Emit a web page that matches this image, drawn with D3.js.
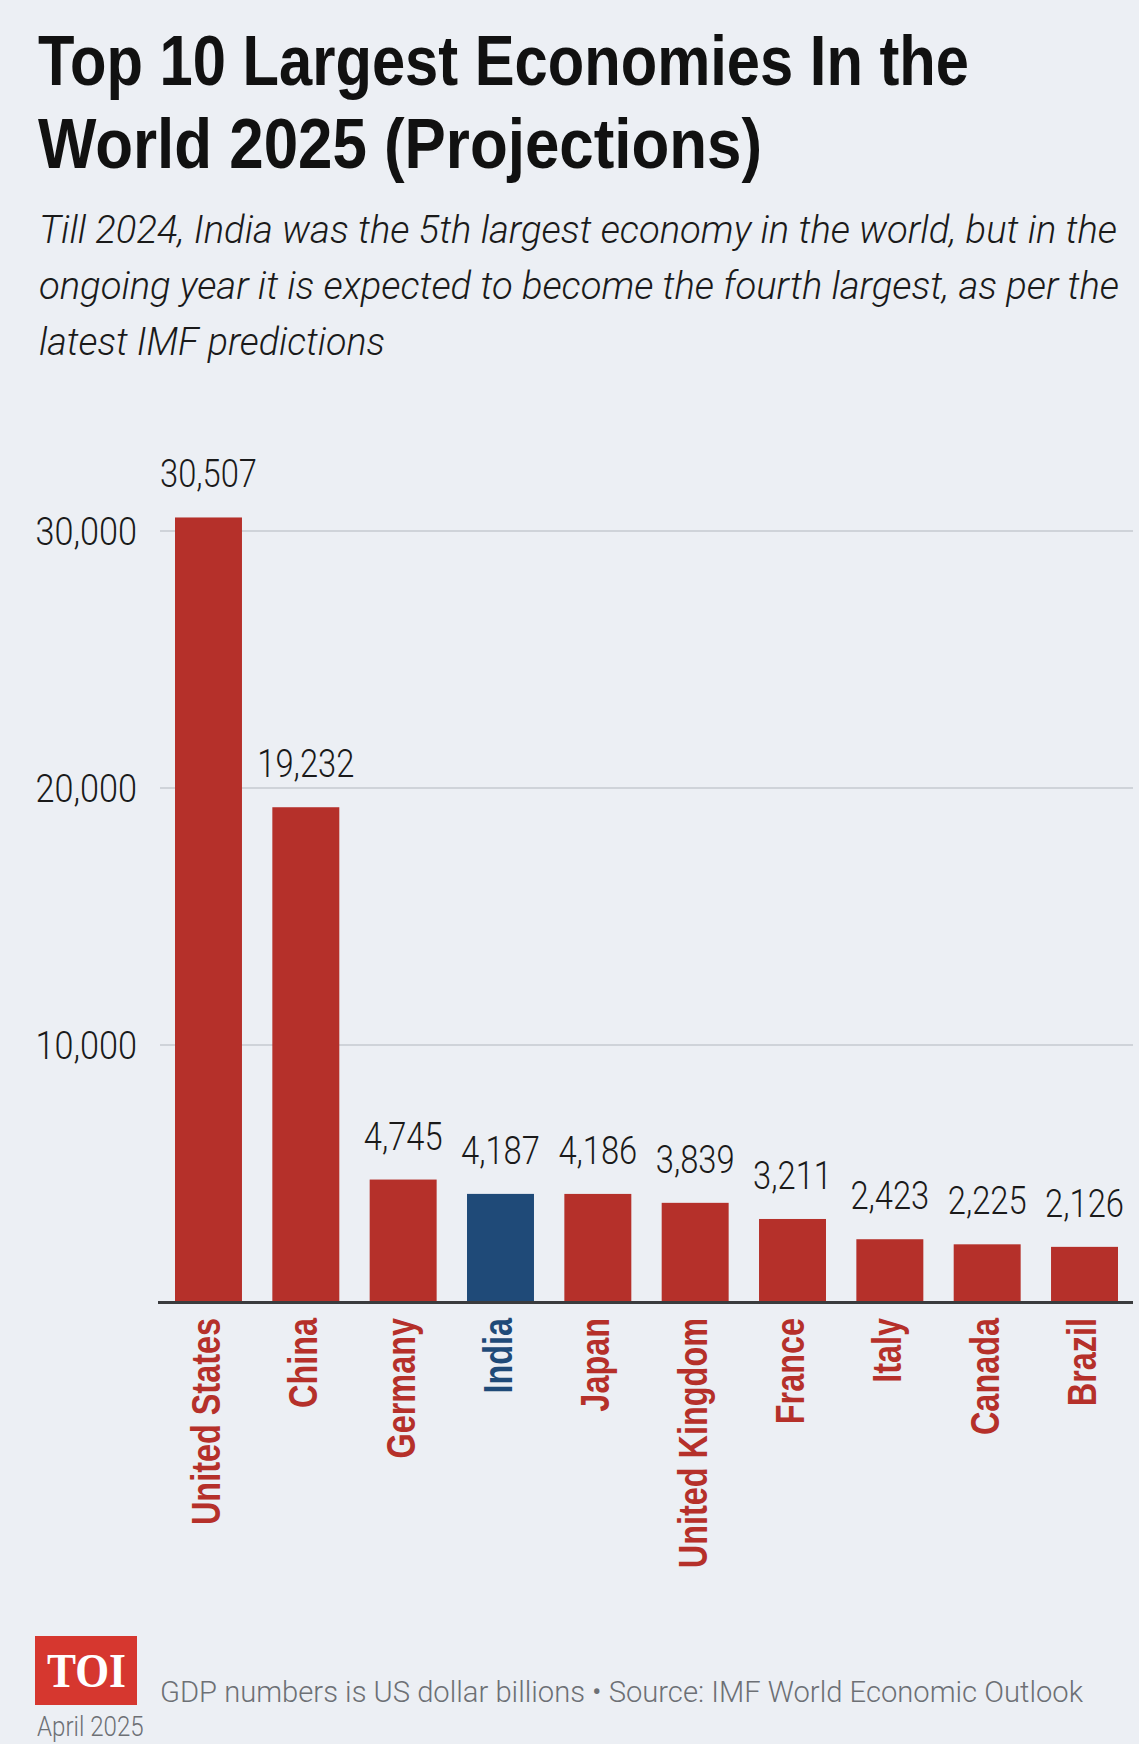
<!DOCTYPE html>
<html>
<head>
<meta charset="utf-8">
<script src="https://cdn.jsdelivr.net/npm/d3@7"></script>
<style>
  body { margin: 0; background: #eceff4; }
  svg { display: block; }
</style>
</head>
<body>
<div id="chart"></div>
<script>
// data
const countries = ["United States", "China", "Germany", "India", "Japan",
    "United Kingdom", "France", "Italy", "Canada", "Brazil"];
const gdp = [30507, 19232, 4745, 4187, 4186, 3839, 3211, 2423, 2225, 2126];
const highlight = "India";
const yTicks = [10000, 20000, 30000];

const titleLines = ["Top 10 Largest Economies In the", "World 2025 (Projections)"];
const subtitleLines = [
    "Till 2024, India was the 5th largest economy in the world, but in the",
    "ongoing year it is expected to become the fourth largest, as per the",
    "latest IMF predictions"
];
const footnote = "GDP numbers is US dollar billions \u2022 Source: IMF World Economic Outlook";
const footnote2 = "April 2025";

const width = 1139, height = 1744;
const red = "#b5302a", blue = "#1f4a78";
const lightFont = "Roboto, Lato, 'Open Sans', sans-serif";

const svg = d3.select("#chart").append("svg")
    .attr("width", width)
    .attr("height", height);

svg.append("rect")
    .attr("width", width)
    .attr("height", height)
    .attr("fill", "#eceff4");

// squeeze text horizontally to imitate a condensed face
function condense(sel, factor) {
    sel.each(function () {
        const len = this.getComputedTextLength();
        d3.select(this)
            .attr("textLength", len * factor)
            .attr("lengthAdjust", "spacingAndGlyphs");
    });
}

// title
const titleWidths = [931, 724];
svg.append("g").selectAll("text")
    .data(titleLines)
    .enter().append("text")
    .attr("x", 38)
    .attr("y", (d, i) => 85 + i * 83)
    .attr("font-family", "'Liberation Sans', Arial, sans-serif")
    .attr("font-weight", 700)
    .attr("font-size", 70)
    .attr("fill", "#111")
    .attr("textLength", (d, i) => titleWidths[i])
    .attr("lengthAdjust", "spacingAndGlyphs")
    .text(d => d);

// subtitle
const subWidths = [1078, 1080, 346];
svg.append("g").selectAll("text")
    .data(subtitleLines)
    .enter().append("text")
    .attr("x", 39)
    .attr("y", (d, i) => 243 + i * 56)
    .attr("font-family", lightFont)
    .attr("font-style", "italic")
    .attr("font-weight", 300)
    .attr("font-size", 38)
    .attr("fill", "#1a1a1a")
    .attr("textLength", (d, i) => subWidths[i])
    .attr("lengthAdjust", "spacingAndGlyphs")
    .text(d => d);

// scales
const data = countries.map((c, i) => ({ country: c, value: gdp[i] }));

const x = d3.scaleBand()
    .domain(countries)
    .range([175, 1118])
    .paddingInner(0.312)
    .paddingOuter(0);

const y = d3.scaleLinear()
    .domain([0, 30000])
    .range([1301.5, 530.5]);

// gridlines + y labels
const yAxis = svg.append("g")
    .attr("transform", "translate(160,0)")
    .call(d3.axisLeft(y)
        .tickValues(yTicks)
        .tickSize(-(1133 - 160))
        .tickPadding(23)
        .tickFormat(d3.format(",")));

yAxis.select(".domain").remove();
yAxis.selectAll(".tick line")
    .attr("stroke", "#cfd3d9")
    .attr("stroke-width", 2);
yAxis.selectAll(".tick text")
    .attr("font-family", lightFont)
    .attr("font-weight", 300)
    .attr("font-size", 38)
    .attr("fill", "#1a1a1a")
    .attr("dy", "0.36em")
    .call(condense, 0.9);

// bars
svg.append("g").selectAll("rect")
    .data(data)
    .enter().append("rect")
    .attr("x", d => x(d.country))
    .attr("y", d => y(d.value))
    .attr("width", x.bandwidth())
    .attr("height", d => y(0) - y(d.value))
    .attr("fill", d => d.country === highlight ? blue : red);

// baseline
svg.append("line")
    .attr("x1", 158)
    .attr("x2", 1133)
    .attr("y1", y(0) + 1)
    .attr("y2", y(0) + 1)
    .attr("stroke", "#3a3b3d")
    .attr("stroke-width", 3);

// value labels
svg.append("g").selectAll("text")
    .data(data)
    .enter().append("text")
    .attr("x", d => x(d.country) + x.bandwidth() / 2)
    .attr("y", d => y(d.value) - 30)
    .attr("text-anchor", "middle")
    .attr("font-family", lightFont)
    .attr("font-weight", 300)
    .attr("font-size", 38)
    .attr("fill", "#1a1a1a")
    .text(d => d3.format(",")(d.value))
    .call(condense, 0.86);

// country labels
svg.append("g").selectAll("text")
    .data(data)
    .enter().append("text")
    .attr("transform", d => "translate(" + (x(d.country) + x.bandwidth() / 2 - 3) + ",1318) rotate(-90)")
    .attr("text-anchor", "end")
    .attr("dy", "0.36em")
    .attr("font-family", "'Liberation Sans', Arial, sans-serif")
    .attr("font-weight", 700)
    .attr("font-size", 40)
    .attr("fill", d => d.country === highlight ? blue : red)
    .text(d => d.country)
    .call(condense, 0.81);

// footer logo
svg.append("rect")
    .attr("x", 35)
    .attr("y", 1636)
    .attr("width", 102)
    .attr("height", 69)
    .attr("fill", "#d6372f");

svg.append("text")
    .attr("x", 47)
    .attr("y", 1687)
    .attr("font-family", "'Liberation Serif', 'Times New Roman', serif")
    .attr("font-weight", 700)
    .attr("font-size", 48)
    .attr("fill", "#fff")
    .attr("textLength", 79)
    .attr("lengthAdjust", "spacingAndGlyphs")
    .text("TOI");

// footer notes
svg.append("text")
    .attr("x", 160)
    .attr("y", 1702)
    .attr("font-family", lightFont)
    .attr("font-weight", 300)
    .attr("font-size", 30)
    .attr("fill", "#6d7075")
    .attr("textLength", 923)
    .attr("lengthAdjust", "spacingAndGlyphs")
    .text(footnote);

svg.append("text")
    .attr("x", 37)
    .attr("y", 1736)
    .attr("font-family", lightFont)
    .attr("font-weight", 300)
    .attr("font-size", 28)
    .attr("fill", "#6d7075")
    .text(footnote2)
    .call(condense, 0.86);
</script>
</body>
</html>
